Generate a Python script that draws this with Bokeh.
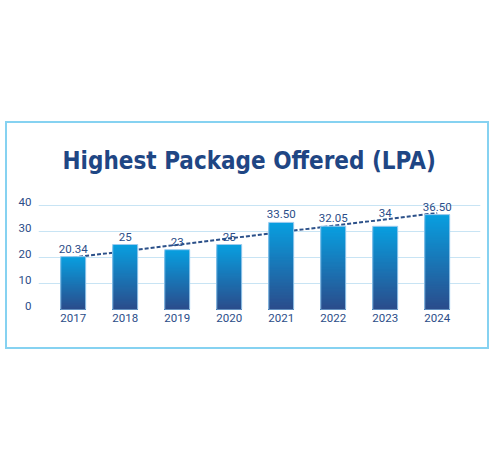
from bokeh.plotting import figure
from bokeh.models import FixedTicker, Title, ColumnDataSource
from bokeh.core.properties import value
from bokeh.embed import file_html
from bokeh.resources import INLINE

years = [2017, 2018, 2019, 2020, 2021, 2022, 2023, 2024]
bar_heights = [20.34, 25, 23, 25, 33.5, 32.05, 32, 36.5]
label_values = [20.34, 25, 23, 25, 33.50, 32.05, 34, 36.50]
value_labels = ["20.34", "25", "23", "25", "33.50", "32.05", "34", "36.50"]
y_ticks = [0, 10, 20, 30, 40]
trend_years = [2017, 2024]
trend_values = [20.0, 37.1]
title_text = "Highest Package Offered (LPA)"

TOP = (0x08, 0x9f, 0xe0)
BOT = (0x2b, 0x4c, 0x8b)
N = 60

def mix(t):
    r = [int(round(BOT[i] + (TOP[i] - BOT[i]) * t)) for i in range(3)]
    return "#%02x%02x%02x" % tuple(r)

Y0, Y1 = 0, 45
W, H = 484, 228
BL, BR, BT, BB = 31, 11, 69, 42
FRAME_H = H - BT - BB

p = figure(width=W, height=H, output_backend="svg", toolbar_location=None,
           x_range=(2016.333, 2024.833), y_range=(Y0, Y1),
           min_border_left=BL, min_border_right=BR, min_border_top=BT, min_border_bottom=BB)
p.styles = {"border": "2px solid #86d2f1", "margin-top": "121px", "margin-left": "5px"}
p.outline_line_color = None
p.background_fill_color = "white"
p.border_fill_color = "white"

t = Title(text=title_text, align="left", offset=24, standoff=36,
          text_font="DejaVu Sans Condensed", text_font_style="bold",
          text_font_size="24px", text_color="#1f4684")
p.add_layout(t, "above")

# trend line (behind bars)
p.line(trend_years, trend_values, line_color="#2b5089", line_width=2, line_dash="4 2")

# gradient bars: overlapping stacks, tallest (top colour) first
xs, tops, cols = [], [], []
for k in range(N):
    frac = (N - k) / N
    for x, h in zip(years, bar_heights):
        xs.append(x)
        tops.append(h * frac)
        cols.append(mix(frac - 0.5 / N))
p.vbar(x=xs, bottom=0, top=tops, width=0.48, fill_color=cols, line_color=None)
p.vbar(x=years, top=bar_heights, width=0.48, fill_color=None, line_color="#9ccbee", line_width=1)

src = ColumnDataSource(dict(x=years, y=label_values, t=value_labels))
p.text(x="x", y="y", text="t", source=src, text_align="center", text_baseline="alphabetic",
       y_offset=-8, text_font=value("Roboto"), text_font_size="11.5px", text_color="#2b4d88")

p.xgrid.grid_line_color = None
p.ygrid.ticker = FixedTicker(ticks=y_ticks)
p.ygrid.grid_line_color = "#c8e4f4"
p.ygrid.grid_line_width = 1

# y labels sit on their gridlines (bottom of text at the line)
shift = 4.0 * (Y1 - Y0) / FRAME_H
p.yaxis.ticker = FixedTicker(ticks=[v + shift for v in y_ticks])
p.yaxis.major_label_overrides = {v + shift: str(v) for v in y_ticks}
p.xaxis.ticker = FixedTicker(ticks=years)
for ax in (p.xaxis[0], p.yaxis[0]):
    ax.axis_line_color = None
    ax.major_tick_line_color = None
    ax.minor_tick_line_color = None
    ax.major_tick_out = 0
    ax.major_tick_in = 0
    ax.major_label_text_font = "Roboto"
    ax.major_label_text_font_size = "11.5px"
    ax.major_label_text_color = "#2b4d88"
p.xaxis.major_label_standoff = 4
p.yaxis.major_label_standoff = 7

open("out.html", "w").write(file_html(p, INLINE))
